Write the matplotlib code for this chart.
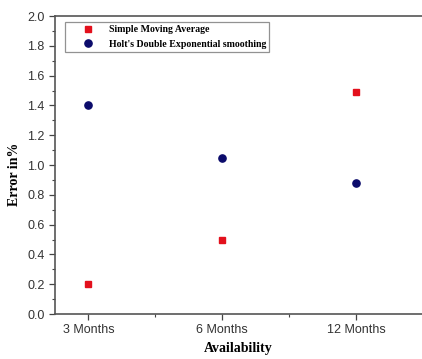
import matplotlib
matplotlib.use("Agg")
import matplotlib.pyplot as plt
from matplotlib.ticker import MultipleLocator, FixedLocator, FormatStrFormatter

periods = ["3 Months", "6 Months", "12 Months"]
sma_error = [0.2, 0.5, 1.49]
holt_error = [1.4, 1.05, 0.88]

fig = plt.figure(figsize=(4.22, 3.59), dpi=100)
ax = fig.add_axes([0.130, 0.1253, 0.87, 0.8301])

pos = range(1, len(periods) + 1)
ax.plot(pos, sma_error, linestyle="none", marker="s", markersize=4.6,
        color="#e3101c", label="Simple Moving Average")
ax.plot(pos, holt_error, linestyle="none", marker="o", markersize=5.2,
        color="#0b0b6b", label="Holt's Double Exponential smoothing")

ax.set_xlim(0.75, 3.49)
ax.set_ylim(0, 2.0)
ax.set_xticks(list(pos))
ax.set_xticklabels(periods, fontname="Liberation Sans", fontsize=9, color="#333333")
ax.xaxis.set_minor_locator(FixedLocator([1.5, 2.5]))
ax.yaxis.set_major_locator(MultipleLocator(0.2))
ax.yaxis.set_minor_locator(MultipleLocator(0.1))
ax.yaxis.set_major_formatter(FormatStrFormatter("%.1f"))
for lab in ax.get_yticklabels():
    lab.set_fontname("Liberation Sans")

ax.tick_params(which="major", direction="out", length=4, width=0.9, color="#444444")
ax.tick_params(which="minor", direction="out", length=2.5, width=0.8, color="#444444")
ax.tick_params(axis="y", labelsize=9, labelcolor="#333333")

ax.spines["right"].set_visible(False)
for s in ("left", "bottom", "top"):
    ax.spines[s].set_color("#555555")
    ax.spines[s].set_linewidth(1.2)

ax.set_xlabel("Availability", fontname="Liberation Serif", fontweight="bold",
              fontsize=10, labelpad=4)
ax.set_ylabel("Error in%", fontname="Liberation Serif", fontweight="bold",
              fontsize=10)
ax.yaxis.set_label_coords(-0.093, 0.47)

leg = ax.legend(loc="upper left", bbox_to_anchor=(0.027, 0.979), frameon=True,
                fancybox=False, borderpad=0.3, handletextpad=0.0,
                borderaxespad=0, handlelength=4.2,
                prop={"family": "Liberation Serif", "weight": "bold", "size": 7.1},
                labelspacing=0.55)
leg.get_frame().set_edgecolor("#777777")
leg.get_frame().set_linewidth(0.9)

fig.savefig("out.png", dpi=100)
